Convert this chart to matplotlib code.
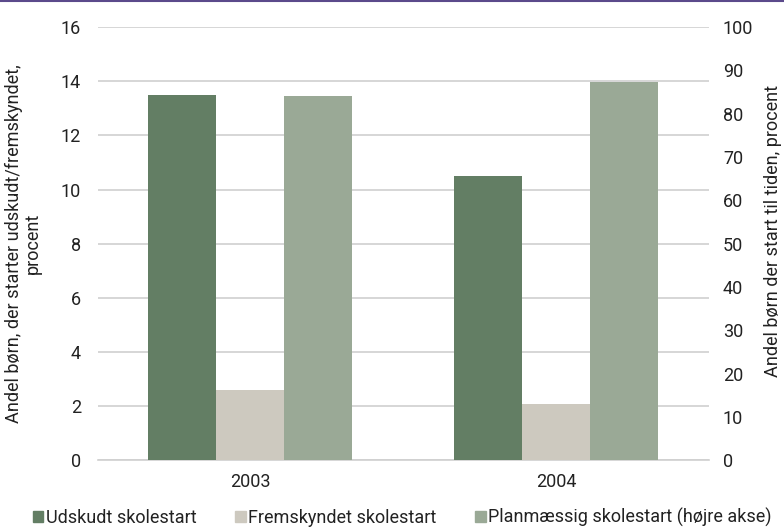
import matplotlib
matplotlib.use("Agg")
import matplotlib.pyplot as plt
import numpy as np
from matplotlib.patches import Patch

plt.rcParams['font.family'] = ['Roboto', 'DejaVu Sans']

years = ["2003", "2004"]
udskudt = [13.5, 10.5]          # left axis, percent
fremskyndet = [2.6, 2.1]        # left axis, percent
planmaessig = [84.0, 87.4]      # right axis, percent

left_ticks = list(range(0, 17, 2))
right_ticks = list(range(0, 101, 10))

c_dark = "#637e64"
c_beige = "#cdc9bf"
c_light = "#9aa996"
c_grid = "#d0d0d0"
c_text = "#222222"

fig = plt.figure(figsize=(7.84, 5.29), dpi=100)
ax = fig.add_axes([0.1244, 0.1295, 0.78, 0.8195])
ax2 = ax.twinx()

x = np.arange(len(years))
w = 2 / 9
ax.bar(x - w, udskudt, width=w, color=c_dark, zorder=3)
ax.bar(x, fremskyndet, width=w, color=c_beige, zorder=3)
ax2.bar(x + w, planmaessig, width=w, color=c_light, zorder=3)

ax.set_xlim(-0.5, 1.5)
ax.set_ylim(0, 16)
ax2.set_ylim(0, 100)
ax.set_yticks(left_ticks)
ax2.set_yticks(right_ticks)
ax.set_xticks(x)
ax.set_xticklabels(years)

ax.grid(axis="y", color=c_grid, linewidth=1.2, zorder=0)
ax.set_axisbelow(True)
for a in (ax, ax2):
    for s in a.spines.values():
        s.set_visible(False)
ax.spines["bottom"].set_visible(True)
ax.spines["bottom"].set_color(c_grid)
ax.spines["bottom"].set_linewidth(1.2)

fs = 13
ax.tick_params(axis="y", length=0, pad=12, labelsize=fs, labelcolor=c_text)
ax2.tick_params(axis="y", length=0, pad=10, labelsize=fs, labelcolor=c_text)
ax.tick_params(axis="x", length=0, pad=9, labelsize=fs, labelcolor=c_text)

ax.set_ylabel("Andel børn, der starter udskudt/fremskyndet,\nprocent",
              fontsize=13, color=c_text, linespacing=1.0)
ax.yaxis.set_label_coords(-0.092, 0.5)
ax2.set_ylabel("Andel børn der start til tiden, procent",
               fontsize=13, color=c_text)
ax2.yaxis.set_label_coords(1.09, 0.53)

handles = [Patch(color=c_dark), Patch(color=c_beige), Patch(color=c_light)]
labels = ["Udskudt skolestart", "Fremskyndet skolestart",
          "Planmæssig skolestart (højre akse)"]
fig.legend(handles, labels, loc="center", bbox_to_anchor=(0.513, 0.022),
           ncol=3, frameon=False, fontsize=13,
           handlelength=0.6, handleheight=0.6, handletextpad=0.15,
           columnspacing=2.1, labelcolor=c_text)

# thin accent rule along the top edge
fig.add_artist(plt.Line2D([0, 1], [0.999, 0.999], color="#5b4a8b",
                          linewidth=1.5, transform=fig.transFigure))

fig.savefig("out.png", dpi=100)
